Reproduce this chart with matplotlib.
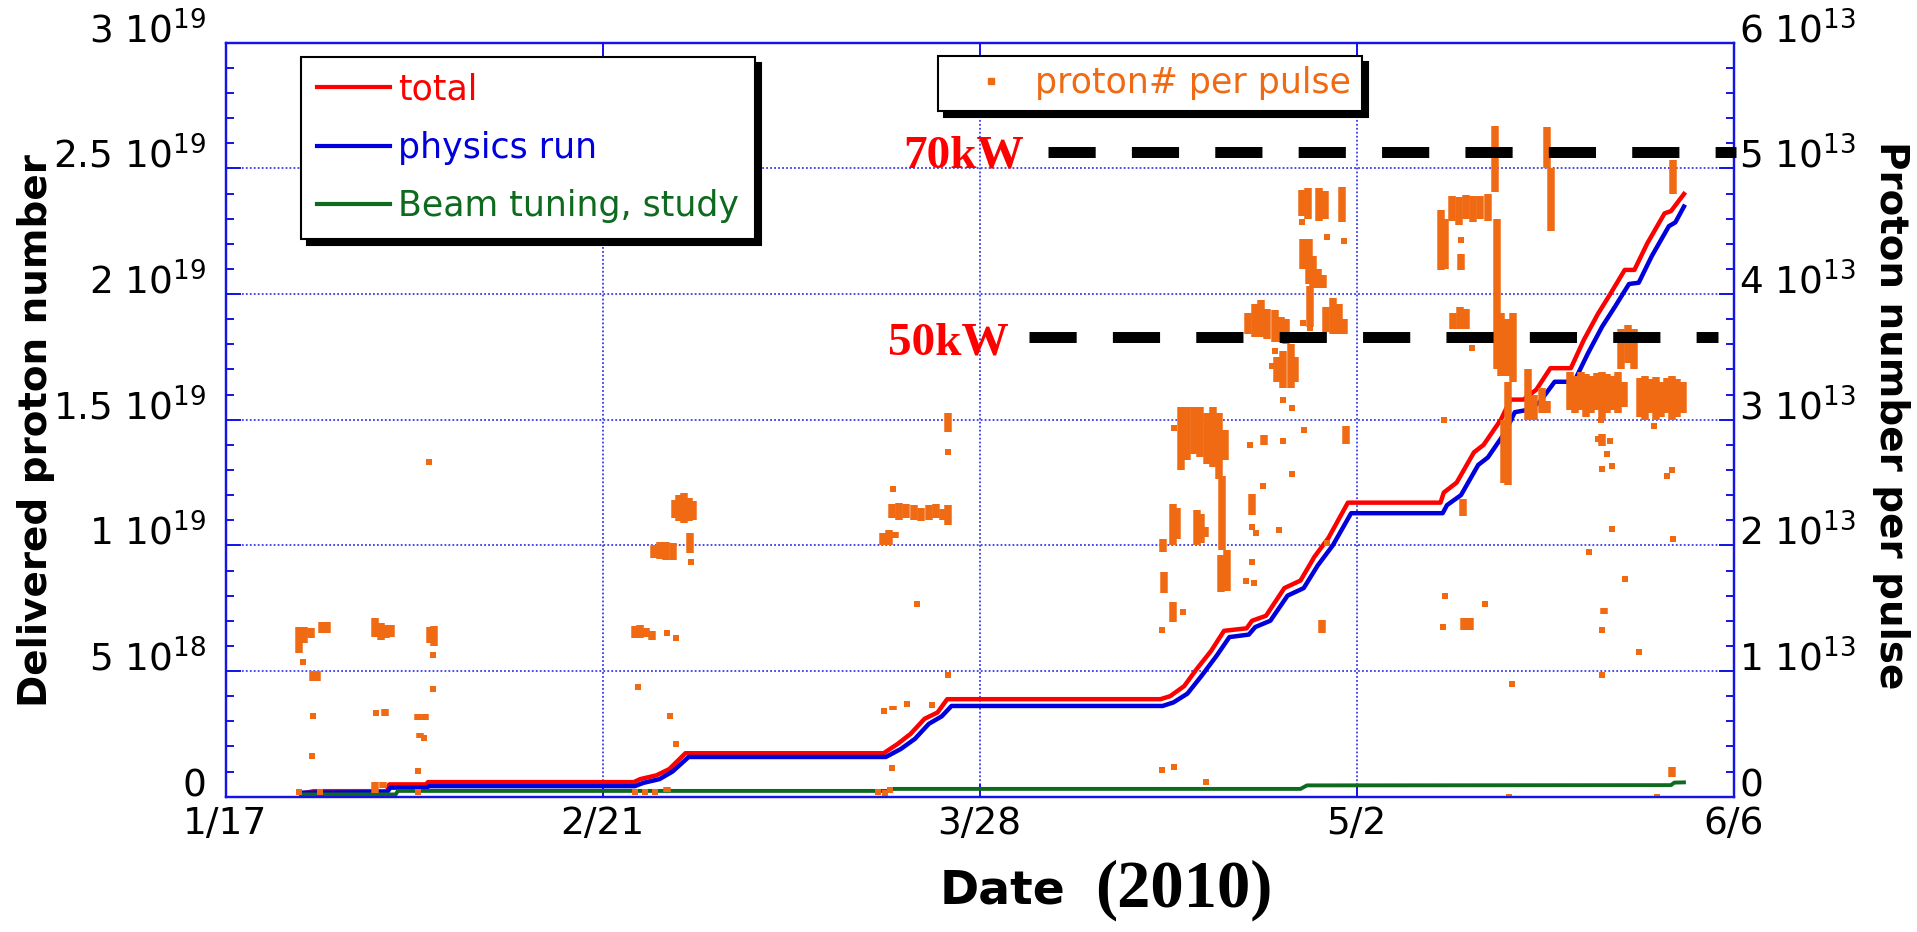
"""
J-PARC delivered protons, Jan-Jun 2010: cumulative totals + protons per pulse.
"""
import numpy as np
import matplotlib as mpl, matplotlib.pyplot as plt
from matplotlib.lines import Line2D
from matplotlib.ticker import MultipleLocator, FixedLocator, FixedFormatter

mpl.rcParams.update({"font.family": "DejaVu Sans", "mathtext.default": "regular"})

# ====== Data (x = days since 1/17/2010) ======
# cumulative delivered protons, units of 1e19
total_day = [7.0, 8.2, 15.0, 15.2, 18.6, 18.8, 37.9, 38.5, 40.0, 41.2, 42.7, 61.1, 62.4, 63.6, 64.9,
             66.1, 67.0, 86.8, 87.7, 89.0, 90.2, 91.5, 92.7, 94.8, 95.3, 96.6, 98.3, 99.8, 101.1,
             102.4, 104.2, 112.8, 113.1, 114.3, 115.9, 116.8, 118.4, 119.3, 120.5, 121.7, 123.0,
             124.9, 126.1, 127.4, 128.6, 129.9, 130.8, 132.0, 133.6, 134.2, 135.4]
total_val = [0.012, 0.022, 0.022, 0.049, 0.049, 0.058, 0.058, 0.07, 0.085, 0.11, 0.173, 0.173, 0.21,
             0.25, 0.31, 0.335, 0.388, 0.388, 0.40, 0.44, 0.51, 0.58, 0.66, 0.67, 0.70, 0.72, 0.83,
             0.86, 0.955, 1.03, 1.17, 1.17, 1.21, 1.25, 1.37, 1.40, 1.50, 1.58, 1.58, 1.62, 1.705,
             1.705, 1.817, 1.92, 2.003, 2.096, 2.096, 2.202, 2.321, 2.33, 2.398]

phys_day = [7.0, 15.0, 15.3, 18.7, 18.9, 38.0, 38.8, 40.3, 41.5, 43.0, 61.3, 62.7, 64.0, 65.3, 66.5,
            67.4, 87.0, 88.0, 89.3, 90.6, 92.0, 93.2, 95.0, 95.6, 97.0, 98.6, 100.1, 101.4, 102.8,
            104.5, 113.0, 113.4, 114.7, 116.3, 117.2, 118.8, 119.7, 121.0, 122.0, 123.4, 125.2,
            126.5, 127.8, 129.0, 130.3, 131.2, 132.4, 134.0, 134.6, 135.4]
phys_val = [0.016, 0.018, 0.036, 0.036, 0.042, 0.042, 0.055, 0.07, 0.10, 0.158, 0.158, 0.19, 0.23,
            0.29, 0.32, 0.361, 0.361, 0.375, 0.41, 0.48, 0.56, 0.635, 0.645, 0.675, 0.70, 0.80,
            0.83, 0.92, 1.0, 1.128, 1.128, 1.16, 1.20, 1.32, 1.35, 1.45, 1.53, 1.54, 1.57, 1.651,
            1.651, 1.765, 1.87, 1.95, 2.04, 2.045, 2.15, 2.27, 2.285, 2.348]

tune_day = [7.0, 15.8, 16.0, 61.6, 62.0, 99.8, 100.4, 134.2, 134.5, 135.4]
tune_val = [0.009, 0.009, 0.023, 0.023, 0.031, 0.031, 0.045, 0.046, 0.056, 0.057]

# protons per pulse, units of 1e13: dense runs (day, low, high) and single pulses
run_day = [6.8, 7.3, 7.9, 8.1, 8.5, 9.0, 9.4, 13.9, 14.4, 14.9, 15.4, 14.8, 13.9, 14.6,
           19.0, 19.4, 17.9, 18.5, 18.1, 38.0, 38.5, 39.0, 39.6, 41.0,
           41.7, 42.1, 42.6, 43.0, 43.4, 39.8, 40.3, 40.9, 41.5, 43.1,
           61.9, 62.5, 63.2, 63.9, 64.6, 65.3, 66.0, 66.6, 67.1, 61.0, 61.6, 62.2, 62.0, 67.1,
           88.7, 89.3, 89.9, 90.5, 91.1, 91.7, 92.2, 88.0, 88.3, 90.2, 90.6, 90.9, 87.0,
           87.1, 88.0, 92.4, 92.5, 93.0, 92.8, 96.4, 104.0, 95.3, 101.8,
           115.0, 115.5, 114.9, 119.1, 118.7, 127.8, 128.0, 134.3,
           94.9, 95.6, 96.1, 96.7, 97.4, 98.0, 98.5, 97.6, 98.2, 98.9, 99.3,
           99.9, 100.5, 101.5, 102.1, 103.7, 100.0, 100.6, 101.0, 101.4, 101.9, 100.7,
           102.2, 102.8, 103.4, 103.8,
           112.8, 113.2, 113.9, 114.5, 115.2, 115.8, 116.5, 117.2, 114.7,
           117.9, 118.0, 118.4, 119.0, 119.5, 114.0, 114.6, 115.2, 122.7, 123.1,
           120.9, 121.5, 122.2, 122.7,
           124.8, 125.3, 125.8, 126.3, 126.8, 127.3, 127.8, 128.3, 128.8, 129.3, 129.8,
           129.6, 130.2, 130.8,
           131.3, 131.8, 132.3, 132.8, 133.3, 133.8, 134.3, 134.8, 135.3, 134.4]
run_lo = [1.14, 1.22, 1.26, 0.92, 0.92, 1.30, 1.30, 1.27, 1.25, 1.26, 1.27, 0.64, 0.03, 0.07,
          1.22, 1.20, 0.61, 0.61, 0.47, 1.26, 1.26, 1.27, 1.25, 0.04,
          2.22, 2.19, 2.18, 2.19, 2.20, 1.90, 1.89, 1.88, 1.88, 1.94,
          2.22, 2.20, 2.22, 2.20, 2.19, 2.20, 2.22, 2.20, 2.16, 2.00, 2.00, 2.06, 0.69, 2.90,
          2.60, 2.68, 2.73, 2.70, 2.65, 2.62, 2.53, 2.00, 2.05, 2.00, 2.02, 2.07, 1.95,
          1.62, 1.39, 1.63, 1.96, 1.64, 2.68, 2.80, 2.81, 2.24, 1.30,
          1.33, 1.33, 2.23, 2.48, 2.50, 2.79, 1.45, 0.16,
          3.68, 3.66, 3.66, 3.64, 3.62, 3.62, 3.60, 3.30, 3.25, 3.25, 3.30,
          4.62, 4.60, 4.58, 4.60, 4.57, 4.20, 4.08, 4.05, 4.05, 4.05, 3.74,
          3.70, 3.68, 3.68, 3.68,
          4.19, 4.20, 4.58, 4.55, 4.60, 4.57, 4.60, 4.58, 4.19,
          4.81, 3.40, 3.35, 3.35, 3.30, 3.72, 3.72, 3.72, 5.00, 4.50,
          3.00, 3.00, 3.05, 3.05,
          3.08, 3.05, 3.08, 3.02, 3.05, 3.08, 3.00, 3.05, 3.08, 3.05, 3.10,
          3.40, 3.45, 3.40,
          3.02, 3.00, 3.05, 3.00, 3.02, 3.05, 3.00, 3.02, 3.05, 4.80]
run_hi = [1.35, 1.35, 1.34, 1.00, 1.00, 1.39, 1.39, 1.42, 1.38, 1.37, 1.37, 0.70, 0.12, 0.12,
          1.35, 1.36, 0.66, 0.66, 0.51, 1.36, 1.37, 1.34, 1.32, 0.08,
          2.36, 2.40, 2.42, 2.38, 2.35, 2.00, 2.03, 2.03, 2.02, 2.10,
          2.33, 2.34, 2.33, 2.32, 2.30, 2.32, 2.33, 2.29, 2.32, 2.10, 2.12, 2.11, 0.72, 3.05,
          3.10, 3.10, 3.10, 3.10, 3.05, 3.10, 3.05, 2.33, 2.30, 2.28, 2.25, 2.15, 2.05,
          1.79, 1.55, 1.92, 2.55, 1.96, 2.92, 2.88, 2.95, 2.41, 1.41,
          1.42, 1.42, 2.37, 3.30, 3.00, 2.89, 1.50, 0.24,
          3.85, 3.92, 3.95, 3.88, 3.87, 3.82, 3.80, 3.50, 3.55, 3.60, 3.50,
          4.83, 4.84, 4.84, 4.82, 4.85, 4.44, 4.44, 4.30, 4.20, 4.15, 4.06,
          3.90, 3.97, 3.92, 3.80,
          4.67, 4.60, 4.78, 4.77, 4.79, 4.78, 4.78, 4.80, 4.32,
          5.34, 4.60, 3.85, 3.80, 3.85, 3.85, 3.90, 3.88, 5.33, 5.00,
          3.40, 3.20, 3.25, 3.15,
          3.38, 3.35, 3.38, 3.36, 3.35, 3.37, 3.38, 3.36, 3.35, 3.38, 3.30,
          3.72, 3.75, 3.72,
          3.33, 3.35, 3.32, 3.34, 3.30, 3.33, 3.35, 3.32, 3.30, 5.07]

pulse_day = [7.2, 8.1, 8.0, 6.85, 8.8, 14.0, 19.3, 19.3, 18.4, 17.9, 17.9, 18.9,
             41.0, 41.8, 38.3, 41.3, 41.8, 38.0, 38.9, 39.9, 43.2,
             62.0, 64.2, 67.1, 61.1, 63.3, 65.6, 61.9, 60.6, 61.2, 61.7, 67.1,
             88.1, 88.9, 86.9, 86.9, 88.1, 91.0,
             95.1, 98.2, 100.1, 99.0, 96.3, 95.3, 95.7, 97.8, 95.3, 94.7, 95.5, 102.3,
             113.2, 113.0, 116.9, 119.4, 119.2,
             127.7, 127.4, 128.5, 128.3, 127.8, 128.7, 128.7, 126.6, 129.9, 127.8, 131.2, 127.8,
             132.6, 134.3, 133.8, 134.4, 132.9,
             97.4, 97.2, 98.2, 99.0, 99.9, 102.3, 103.8, 100.0, 100.7, 114.7, 115.7, 113.1]
pulse_val = [1.07, 0.64, 0.32, 0.035, 0.035, 0.67, 1.13, 0.855, 0.47, 0.205, 0.035, 2.665,
             1.30, 1.26, 0.87, 0.64, 0.42, 0.035, 0.035, 0.035, 1.87,
             2.45, 1.53, 0.97, 0.685, 0.74, 0.73, 0.23, 0.04, 0.03, 0.05, 2.745,
             2.93, 1.47, 1.33, 0.21, 0.24, 0.12,
             2.80, 2.83, 2.92, 2.57, 2.47, 2.15, 2.10, 2.12, 1.87, 1.72, 1.70, 2.02,
             1.60, 1.35, 1.53, 0.90, 0.0,
             3.0, 2.85, 2.83, 2.73, 2.61, 2.63, 2.13, 1.95, 1.73, 1.33, 1.15, 0.97,
             2.95, 2.60, 2.55, 2.05, 0.0,
             3.55, 3.43, 3.16, 3.09, 4.57, 4.45, 4.42, 3.77, 3.73, 4.43, 3.57, 3.0]

# beam power reference levels (protons per pulse, 1e13)
p70kw = 5.13
p50kw = 3.655

date_ticks = [0, 35, 70, 105, 140]
date_labels = ["1/17", "2/21", "3/28", "5/2", "6/6"]
left_ticks = [0, 0.5, 1, 1.5, 2, 2.5, 3]
left_labels = ["0", "5 10$^{18}$", "1 10$^{19}$", "1.5 10$^{19}$", "2 10$^{19}$",
               "2.5 10$^{19}$", "3 10$^{19}$"]
right_ticks = [0, 1, 2, 3, 4, 5, 6]
right_labels = ["0"] + [f"{v} 10$^{{13}}$" for v in range(1, 7)]

BLUE = "#1414E6"
ORANGE = "#F06A14"

# ====== Figure ======
fig = plt.figure(figsize=(19.17, 9.32), dpi=100)
ax = fig.add_axes([225.5 / 1917, 1 - 796.7 / 932, 1508 / 1917, 754 / 932])
ax2 = ax.twinx()

ax.plot(total_day, total_val, color="#FF0000", lw=3.2, zorder=3)
ax.plot(phys_day, phys_val, color="#0000DC", lw=3.2, zorder=3)
ax.plot(tune_day, tune_val, color="#0E6A1E", lw=2.8, zorder=3)

ax2.vlines(run_day, run_lo, run_hi, colors=ORANGE, lw=5.4, zorder=2)
ax2.scatter(pulse_day, pulse_val, marker="s", s=22, color=ORANGE, lw=0, zorder=2)

for lvl, x0, x1, txt, xt, yt in [(p70kw, 76.4, 140.2, "70kW", 74.1, 5.01),
                                 (p50kw, 74.6, 138.6, "50kW", 72.7, 3.52)]:
    ax2.plot([x0, x1], [lvl, lvl], color="black", lw=7.9, dashes=(4.3, 3.3),
             dash_capstyle="butt", clip_on=False, zorder=4)
    ax2.text(xt, yt, txt, color="red", fontsize=34, fontweight="bold",
             family="Liberation Serif", ha="right", va="baseline", zorder=5)

# axes, ticks, grid
ax.set_xlim(0, 140)
ax.set_ylim(0, 3)
ax2.set_ylim(0, 6)
ax.xaxis.set_major_locator(FixedLocator(date_ticks))
ax.xaxis.set_major_formatter(FixedFormatter(date_labels))
ax.yaxis.set_major_locator(FixedLocator(left_ticks))
ax.yaxis.set_major_formatter(FixedFormatter(left_labels))
ax.yaxis.set_minor_locator(MultipleLocator(0.1))
ax2.yaxis.set_major_locator(FixedLocator(right_ticks))
ax2.yaxis.set_major_formatter(FixedFormatter(right_labels))
ax2.yaxis.set_minor_locator(MultipleLocator(0.2))

ax.grid(True, which="major", color="#3A3AF0", linestyle=(0, (1, 1.2)), lw=1.3)
ax.tick_params(axis="x", which="major", direction="in", top=True, length=9.5, width=1.4,
               color=BLUE, labelsize=27, pad=7)
ax.tick_params(axis="y", which="major", direction="in", right=False, length=11, width=1.4,
               color=BLUE, labelsize=27, pad=14)
ax.tick_params(axis="y", which="minor", direction="in", right=False, length=6, width=1.4,
               color=BLUE)
ax2.tick_params(axis="y", which="major", direction="in", left=False, length=11, width=1.4,
                color=BLUE, labelsize=27, pad=4)
ax2.tick_params(axis="y", which="minor", direction="in", left=False, length=6, width=1.4,
                color=BLUE)
for a in (ax, ax2):
    for sp in a.spines.values():
        sp.set_color(BLUE)
        sp.set_linewidth(1.6)
for lab in ax.get_yticklabels() + ax2.get_yticklabels():
    lab.set_va("baseline")

# legends
h_lines = [Line2D([], [], color="#FF0000", lw=3.0),
           Line2D([], [], color="#0000DC", lw=3.0),
           Line2D([], [], color="#0E6A1E", lw=3.0)]
leg1 = ax2.legend(h_lines, ["total", "physics run", "Beam tuning, study"],
                  loc="upper left", bbox_to_anchor=(301 / 1917, 1 - 57 / 932),
                  bbox_transform=fig.transFigure, borderaxespad=0, fontsize=25,
                  handlelength=2.1, handletextpad=0.25, labelspacing=0.7, borderpad=0.45,
                  fancybox=False, framealpha=1, edgecolor="black", labelcolor="linecolor",
                  shadow={"ox": 4.5, "oy": -4.5, "shade": 1.0, "alpha": 1})
leg1.get_frame().set_linewidth(1.5)
ax2.add_artist(leg1)
h_pt = [Line2D([], [], color=ORANGE, marker="s", ms=4.5, lw=0)]
leg2 = ax2.legend(h_pt, ["proton# per pulse"], loc="upper left",
                  bbox_to_anchor=(938 / 1917, 1 - 56 / 932), bbox_transform=fig.transFigure,
                  borderaxespad=0, fontsize=25, handlelength=2.45, handletextpad=0.05,
                  borderpad=0.3, fancybox=False, framealpha=1, edgecolor="black",
                  labelcolor=ORANGE,
                  shadow={"ox": 4.5, "oy": -4.5, "shade": 1.0, "alpha": 1})
leg2.get_frame().set_linewidth(1.5)

# axis titles
fig.text(36 / 1917, 1 - 431 / 932, "Delivered proton number", rotation=90, fontsize=28,
         fontweight="bold", ha="center", va="center")
fig.text(1891 / 1917, 1 - 415 / 932, "Proton number per pulse", rotation=-90, fontsize=28,
         fontweight="bold", ha="center", va="center")
fig.text(1002 / 1917, 1 - 891 / 932, "Date", fontsize=34, fontweight="bold",
         ha="center", va="center")
fig.text(1184 / 1917, 1 - 890 / 932, "(2010)", fontsize=48, fontweight="bold",
         family="Liberation Serif", ha="center", va="center")

fig.savefig("out.png", dpi=100)
